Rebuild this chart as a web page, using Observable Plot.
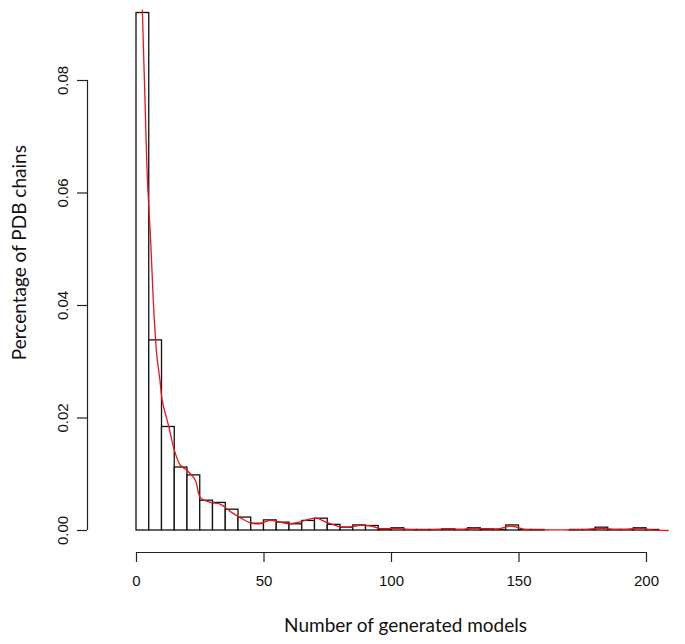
<!DOCTYPE html>
<html>
<head>
<meta charset="utf-8">
<script src="https://cdn.jsdelivr.net/npm/d3@7"></script>
<script src="https://cdn.jsdelivr.net/npm/@observablehq/plot@0.6"></script>
<style>
  html, body { margin: 0; padding: 0; background: #fff; }
  #chart svg { display: block; }
</style>
</head>
<body>
<div id="chart"></div>
<script>
// Histogram bins (lower edge, number of generated models), width 5
const binLow = [0,5,10,15,20,25,30,35,40,45,50,55,60,65,70,75,80,85,90,95,100,105,110,115,120,125,130,135,140,145,150,155,160,165,170,175,180,185,190,195,200,205];
const binDensity = [0.0920,0.0338,0.0184,0.0112,0.0098,0.0053,0.0049,0.0037,0.0023,0.0012,0.0018,0.0014,0.0011,0.0017,0.0021,0.0010,0.0005,0.0009,0.0008,0.0002,0.0004,0.0001,0.0001,0.0001,0.0002,0.0001,0.0004,0.0002,0.0001,0.0009,0.0001,0.0001,0.0000,0.0000,0.0001,0.0001,0.0005,0.0001,0.0001,0.0004,0.0001,0.0000];
const binWidth = 5;

// Density curve (red)
const densX = [2.3,3.3,4.3,5.5,6.85,8,9.2,10.1,12.7,14.9,17.2,19.8,23.1,25,28.9,32.8,36.7,40.6,45.1,48.4,52.3,56.2,60,63.9,70.4,74.3,79.5,83,88,92,96,101.5,106,112,118,122,127,132,137,142,147,152,158,165,172,177,182,187,192,197,202,208.5];
const densY = [0.0925,0.077,0.0623,0.052,0.0386,0.031,0.0267,0.0231,0.0184,0.0142,0.0116,0.0107,0.0089,0.0059,0.0050,0.0047,0.0034,0.0023,0.0013,0.0012,0.0018,0.0015,0.0012,0.0015,0.0022,0.0015,0.0007,0.0006,0.0009,0.0008,0.0003,0.0004,0.0002,0.0001,0.0002,0.0003,0.0002,0.0004,0.0003,0.0003,0.0008,0.0002,0.0001,0.0001,0.0001,0.0002,0.0004,0.0002,0.0002,0.0004,0.0001,0.0000];

const xTicks = [0,50,100,150,200];
const yTicks = [0,0.02,0.04,0.06,0.08];
const xTitle = "Number of generated models";
const yTitle = "Percentage of PDB chains";

const bins = binLow.map((lo, i) => ({x1: lo, x2: lo + binWidth, y: binDensity[i]}));
const dens = densX.map((x, i) => ({x, y: densY[i]}));

const tickFont = "Liberation Sans, Arial, sans-serif";
const titleFont = "Lato, 'Open Sans', sans-serif";

const chart = Plot.plot({
  width: 685,
  height: 644,
  marginLeft: 136,
  marginRight: 39,
  marginTop: 80,
  marginBottom: 114,
  x: {domain: [0, 200], label: null},
  y: {domain: [0, 0.08], label: null},
  style: {background: "#fff", color: "#000"},
  marks: [
    Plot.rectY(bins, {x1: "x1", x2: "x2", y: "y", fill: "white", stroke: "#111", strokeWidth: 1.3}),
    Plot.line(dens, {x: "x", y: "y", stroke: "#e8141a", strokeWidth: 1.3, curve: "catmull-rom"}),
    // y axis (R style, offset left)
    Plot.ruleX([0], {y1: 0, y2: 0.08, dx: -49, stroke: "#222", strokeWidth: 1.2}),
    Plot.axisY({ticks: yTicks, tickSize: 10, dx: -49, tickFormat: () => "", label: null, stroke: "#222", strokeWidth: 1.2}),
    Plot.text(yTicks, {x: 0, y: d => d, text: d => d.toFixed(2), rotate: -90, dx: -73, fontSize: 15, fontFamily: tickFont, fill: "#111"}),
    // x axis (R style, offset down)
    Plot.ruleY([0], {x1: 0, x2: 200, dy: 22, stroke: "#222", strokeWidth: 1.2}),
    Plot.axisX({ticks: xTicks, tickSize: 10, dy: 22, tickPadding: 13, label: null, tickFormat: d => String(d), fontSize: 15, fontFamily: tickFont, stroke: "#222", strokeWidth: 1.2, fill: "#111"}),
    // titles
    Plot.text([xTitle], {x: 105.5, frameAnchor: "bottom", dy: 101, fontSize: 19, fontFamily: titleFont, fill: "#111"}),
    Plot.text([yTitle], {y: 0.0494, frameAnchor: "left", textAnchor: "middle", dx: -117, rotate: -90, fontSize: 19, fontFamily: titleFont, fill: "#111"})
  ]
});
document.getElementById("chart").appendChild(chart);
</script>
</body>
</html>
